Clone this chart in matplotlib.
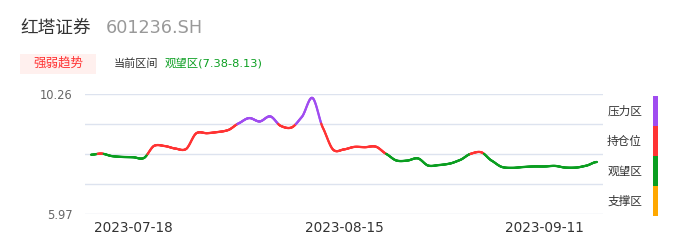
import numpy as np
import pandas as pd
import matplotlib
matplotlib.use("Agg")
import matplotlib.pyplot as plt
from matplotlib.collections import LineCollection
from matplotlib.patches import Rectangle

plt.rcParams['font.family'] = ['DejaVu Sans', 'Noto Sans CJK SC']

# trading days 2023-07-12 .. 2023-09-18
dates = [d.strftime('%Y-%m-%d') for d in pd.bdate_range('2023-07-12', '2023-09-18')]
prices = [8.10, 8.14, 8.05, 8.02, 8.01, 7.98, 8.42, 8.41, 8.32, 8.30,
          8.87, 8.87, 8.91, 8.98, 9.22, 9.41, 9.29, 9.47, 9.13, 9.07,
          9.45, 10.13, 9.06, 8.27, 8.29, 8.38, 8.37, 8.39, 8.13, 7.89,
          7.89, 7.97, 7.71, 7.73, 7.78, 7.91, 8.13, 8.19, 7.89, 7.66,
          7.63, 7.66, 7.68, 7.68, 7.70, 7.64, 7.64, 7.71, 7.84]
shown_dates = ['2023-07-18', '2023-08-15', '2023-09-11']
y_min, y_max = 5.97, 10.26

zone_names = ['压力区', '持仓位', '观望区', '支撑区']
zone_colors = ['#a04cf0', '#ff3333', '#0a9e20', '#ffa800']
zone_bounds = [9.2, 8.13, 7.38]   # 压力 / 持仓 / 观望 / 支撑


def zone_color(v):
    for b, c in zip(zone_bounds, zone_colors):
        if v >= b:
            return c
    return zone_colors[-1]


# smooth curve through the daily points (cardinal spline)
y = np.array(prices)
n = len(y)
m = np.zeros(n)
m[1:-1] = (y[2:] - y[:-2]) / 2 * 0.8
xs, ys = [], []
for i in range(n - 1):
    t = np.linspace(0, 1, 25, endpoint=False)
    h00 = 2 * t**3 - 3 * t**2 + 1
    h10 = t**3 - 2 * t**2 + t
    h01 = -2 * t**3 + 3 * t**2
    h11 = t**3 - t**2
    xs.append(i + t)
    ys.append(h00 * y[i] + h10 * m[i] + h01 * y[i + 1] + h11 * m[i + 1])
xs = np.concatenate(xs + [[n - 1]])
ys = np.concatenate(ys + [[y[-1]]])

fig = plt.figure(figsize=(6.86, 2.47), dpi=100)
W, H = 686, 247
ax = fig.add_axes([85 / W, 1 - 214.3 / H, (603 - 85) / W, 120 / H])

pts = np.column_stack([xs, ys]).reshape(-1, 1, 2)
segs = np.concatenate([pts[:-1], pts[1:]], axis=1)
cols = [zone_color((a + b) / 2) for a, b in zip(ys[:-1], ys[1:])]
lc = LineCollection(segs, colors=cols, linewidths=1.6, capstyle='round')
ax.add_collection(lc)

ax.set_xlim(-0.57, n - 1 + 0.57)
ax.set_ylim(y_min, y_max)
for g in np.linspace(y_min, y_max, 5):
    ax.axhline(g, color='#dde3ef', lw=1, zorder=0)
for s in ax.spines.values():
    s.set_visible(False)
ax.set_yticks([y_min, y_max])
ax.set_yticklabels(['%.2f' % y_min, '%.2f' % y_max], fontsize=8.3, color='#666666')
ax.set_xticks([dates.index(d) for d in shown_dates])
ax.set_xticklabels(shown_dates, fontsize=9.8, color='#333333')
ax.tick_params(length=0, axis='y', pad=9)
ax.tick_params(length=0, axis='x', pad=5)

# header
fig.text(20 / W, 1 - 28 / H, '红塔证券', fontsize=12.7, color='#333333', va='center')
fig.text(106 / W, 1 - 28 / H, '601236.SH', fontsize=12.7, color='#999999', va='center')
fig.patches.append(Rectangle((20 / W, 1 - 74 / H), 76 / W, 20 / H, transform=fig.transFigure,
                             facecolor='#fff0ee', edgecolor='none'))
fig.text(58 / W, 1 - 63.5 / H, '强弱趋势', fontsize=9, color='#ff3333', ha='center', va='center')
fig.text(114 / W, 1 - 63.5 / H, '当前区间', fontsize=8, color='#333333', va='center')
fig.text(165 / W, 1 - 63.5 / H, '观望区(7.38-8.13)', fontsize=8.2, color='#0a9e20', va='center')

# zone legend
for k, (name, c) in enumerate(zip(zone_names, zone_colors)):
    top = 96 + k * 30
    fig.patches.append(Rectangle((653 / W, 1 - (top + 30) / H), 5 / W, 30 / H,
                                 transform=fig.transFigure, facecolor=c, edgecolor='none'))
    fig.text(642 / W, 1 - (top + 15) / H, name, fontsize=8.4, color='#333333',
             ha='right', va='center')

fig.savefig('out.png', dpi=100)
